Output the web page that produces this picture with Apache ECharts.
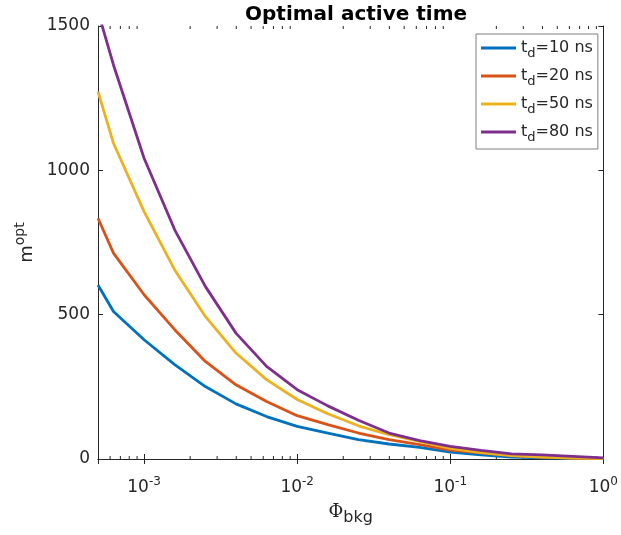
<!DOCTYPE html>
<html>
<head>
<meta charset="utf-8">
<script src="https://cdn.jsdelivr.net/npm/echarts@6/dist/echarts.min.js"></script>
<style>
  html, body { margin: 0; padding: 0; background: #fff; }
  #chart { width: 621px; height: 535px; }
</style>
</head>
<body>
<div id="chart"></div>
<script>
// background photon flux (x), log spaced
const phiBkg = [0.0005, 0.000631, 0.001, 0.001585, 0.002512, 0.003981, 0.00631, 0.01,
  0.01585, 0.02512, 0.03981, 0.0631, 0.1, 0.1585, 0.2512, 0.3981, 0.631, 1];

const seriesNames = ['t_d=10 ns', 't_d=20 ns', 't_d=50 ns', 't_d=80 ns'];
const td10 = [603, 511, 413, 327, 251, 191, 147, 113, 90, 67, 52, 40, 24, 14, 7, 4, 2, 1];
const td20 = [834, 713, 569, 448, 338, 257, 199, 150, 119, 90, 67, 50, 31, 21, 12, 7, 3, 1];
const td50 = [1273, 1094, 857, 655, 494, 367, 275, 206, 157, 115, 84, 61, 37, 22, 12, 7, 3, 1];
const td80 = [1550, 1365, 1042, 794, 598, 436, 321, 240, 184, 134, 90, 64, 44, 30, 18, 14, 9, 4];
const yTicks = [0, 500, 1000, 1500];

const colors = ['#0072BD', '#D95319', '#EDB120', '#7E2F8E'];
const ink = '#262626';
const font = 'DejaVu Sans';

// minor tick positions of the log axis (2..9 per decade)
const minorTicks = [];
for (let d = -4; d < 0; d++) {
  for (let k = 2; k <= 9; k++) {
    const v = k * Math.pow(10, d);
    if (v > phiBkg[0] && v < 1) minorTicks.push([v, 0]);
  }
}

const chart = echarts.init(document.getElementById('chart'));

function pairs(ys) {
  return phiBkg.map((x, i) => [x, ys[i]]);
}

const lineSeries = [td10, td20, td50, td80].map((ys, i) => ({
  name: seriesNames[i],
  type: 'line',
  data: pairs(ys),
  showSymbol: false,
  lineStyle: { width: 2.8, color: colors[i] },
  itemStyle: { color: colors[i] },
  clip: true
}));

function logLabel(v) {
  const e = Math.log10(v);
  if (Math.abs(e - Math.round(e)) > 1e-6) return '';
  return '{b|10}{sup|' + Math.round(e) + '}';
}

const option = {
  animation: false,
  backgroundColor: '#fff',
  title: {
    text: 'Optimal active time',
    left: 240,
    top: 0,
    textStyle: { fontFamily: font, fontWeight: 'bold', fontSize: 20, color: '#000' }
  },
  grid: { left: 98, right: 14, top: 26, bottom: 76 },
  legend: {
    data: seriesNames,
    orient: 'vertical',
    left: 476,
    top: 34,
    padding: [6, 5, 5, 5],
    itemGap: 8,
    itemWidth: 35,
    itemHeight: 3,
    icon: 'rect',
    borderColor: '#7f7f7f',
    borderWidth: 1,
    backgroundColor: '#fff',
    formatter: function (name) {
      const rest = name.slice(3);
      return '{t|t}{sub|d}{t|' + rest + '}';
    },
    textStyle: {
      fontFamily: font,
      color: ink,
      rich: {
        t: { fontFamily: font, fontSize: 16, color: ink },
        sub: { fontFamily: font, fontSize: 13, color: ink, padding: [11, 0, 0, 0] }
      }
    }
  },
  xAxis: [{
    type: 'log',
    logBase: 10,
    min: 0.0005,
    max: 1,
    name: '{phi|Φ}{sub|bkg}',
    nameLocation: 'middle',
    nameGap: 39,
    nameTextStyle: {
      rich: {
        phi: { fontFamily: 'DejaVu Serif', fontSize: 18, color: ink },
        sub: { fontFamily: font, fontSize: 16, color: ink, padding: [12, 0, 0, 0] }
      }
    },
    axisLine: { lineStyle: { color: ink, width: 1 } },
    axisTick: { inside: true, length: 5, lineStyle: { color: ink } },
    splitLine: { show: false },
    axisLabel: {
      formatter: logLabel,
      margin: 17,
      showMinLabel: false,
      rich: {
        b: { fontFamily: font, fontSize: 17, color: ink },
        sup: { fontFamily: font, fontSize: 12, color: ink, padding: [0, 0, 12, 0] }
      }
    }
  }, {
    type: 'log',
    logBase: 10,
    min: 0.0005,
    max: 1,
    position: 'top',
    axisLine: { lineStyle: { color: ink, width: 1 } },
    axisTick: { inside: true, length: 5, lineStyle: { color: ink } },
    axisLabel: { show: false },
    splitLine: { show: false }
  }],
  yAxis: [{
    type: 'value',
    min: yTicks[0],
    max: yTicks[yTicks.length - 1],
    interval: 500,
    name: '{m|m}{sup|opt}',
    nameLocation: 'middle',
    nameGap: 53,
    nameTextStyle: {
      rich: {
        m: { fontFamily: font, fontSize: 18, color: ink },
        sup: { fontFamily: font, fontSize: 14, color: ink, padding: [0, 0, 12, 0] }
      }
    },
    axisLine: { show: true, lineStyle: { color: ink, width: 1 } },
    axisTick: { show: true, inside: true, length: 5, lineStyle: { color: ink } },
    splitLine: { show: false },
    axisLabel: {
      fontFamily: font, fontSize: 17, color: ink, margin: 8,
      formatter: function (v) { return String(v); }
    }
  }, {
    type: 'value',
    min: yTicks[0],
    max: yTicks[yTicks.length - 1],
    interval: 500,
    position: 'right',
    axisLine: { show: true, lineStyle: { color: ink, width: 1 } },
    axisTick: { show: true, inside: true, length: 5, lineStyle: { color: ink } },
    splitLine: { show: false },
    axisLabel: { show: false }
  }],
  series: lineSeries.concat([{
    name: 'minorTicks',
    type: 'custom',
    silent: true,
    data: minorTicks,
    clip: false,
    renderItem: function (params, api) {
      const bottom = api.coord([api.value(0), yTicks[0]]);
      const top = api.coord([api.value(0), yTicks[yTicks.length - 1]]);
      const st = { stroke: ink, lineWidth: 1 };
      return {
        type: 'group',
        children: [
          { type: 'line', shape: { x1: bottom[0], y1: bottom[1], x2: bottom[0], y2: bottom[1] - 3 }, style: st },
          { type: 'line', shape: { x1: top[0], y1: top[1], x2: top[0], y2: top[1] + 3 }, style: st }
        ]
      };
    }
  }])
};

option && chart.setOption(option);
</script>
</body>
</html>
